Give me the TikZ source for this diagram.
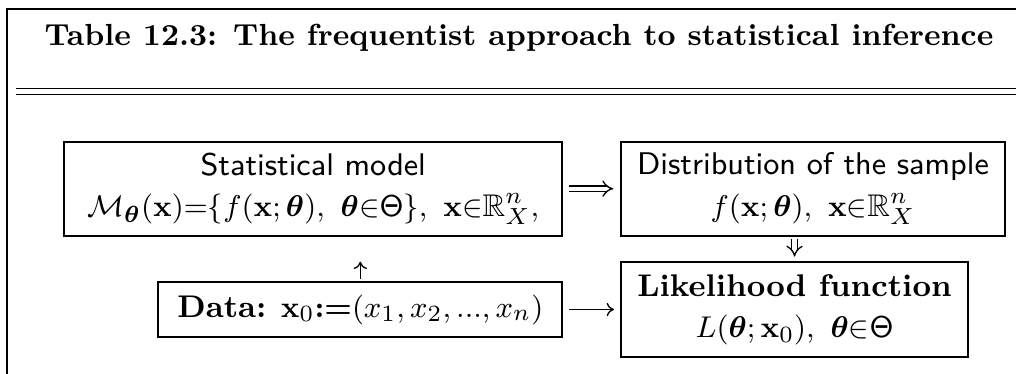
\documentclass[tikz,border=0pt]{standalone}
\usepackage{amsmath,amssymb}
\usetikzlibrary{arrows.meta}
\begin{document}
\begin{tikzpicture}[x=0.3pt,y=-0.3pt,
  box/.style={draw, line width=0.6pt, inner sep=0pt, align=center,
    font=\fontsize{9.4}{12.4}\selectfont},
  frame/.style={line width=0.6pt},
  rule/.style={line width=0.45pt},
  sarrow/.style={line width=0.4pt, -{To[length=2.2pt,width=4pt]}},
  darrow/.style={double, line width=0.4pt, double distance=1.3pt, -{Implies}},
  title/.style={font=\fontsize{9.15}{11}\selectfont\bfseries, anchor=base}
]
\useasboundingbox (0,0) rectangle (1016,374);
% frame and rules
\draw[frame] (7,374) |- (1016,9.3);
\draw[rule] (16,88.7) -- (1016,88.7);
\draw[rule] (16,94.3) -- (1016,94.3);
\node[title] (ttl) at (519,45.7) {Table 12.3: The frequentist approach to statistical inference};
% boxes
\node[box, minimum width=149.5pt, minimum height=28.2pt] (stat) at (313.2,188.7)
  {\textsf{Statistical model}\\
   $\mathcal{M}_{\boldsymbol{\theta}}(\mathbf{x}){=}\{f(\mathbf{x};\boldsymbol{\theta}),\ \boldsymbol{\theta}{\in}\mathsf{\Theta}\},\ \mathbf{x}{\in}\mathbb{R}^n_X,$};
\node[box, minimum width=115.2pt, minimum height=28.2pt] (dist) at (813,188.7)
  {\textsf{Distribution of the sample}\\
   $f(\mathbf{x};\boldsymbol{\theta}),\ \mathbf{x}{\in}\mathbb{R}^n_X$};
\node[box, minimum width=121.2pt, minimum height=16.7pt] (data) at (360.3,309.5)
  {\textbf{Data:} $\mathbf{x}_0\boldsymbol{{:}{=}}(x_1,x_2,...,x_n)$};
\node[box, minimum width=104.3pt, minimum height=28.3pt] (lik) at (794.5,309.5)
  {\textbf{Likelihood function}\\
   $L(\boldsymbol{\theta};\mathbf{x}_0),\ \boldsymbol{\theta}{\in}\mathsf{\Theta}$};
% connectors
\draw[darrow, shorten <=1.6pt, shorten >=2pt] (stat) -- (dist);
\draw[sarrow, shorten <=1.8pt, shorten >=1.7pt] (data) -- (lik);
\draw[darrow, shorten <=0.7pt, shorten >=1.4pt] (lik.north |- dist.south) -- (lik.north);
\draw[sarrow, shorten <=0.5pt, shorten >=7.5pt] (data.north) -- (data.north |- stat.south);
\end{tikzpicture}
\end{document}
